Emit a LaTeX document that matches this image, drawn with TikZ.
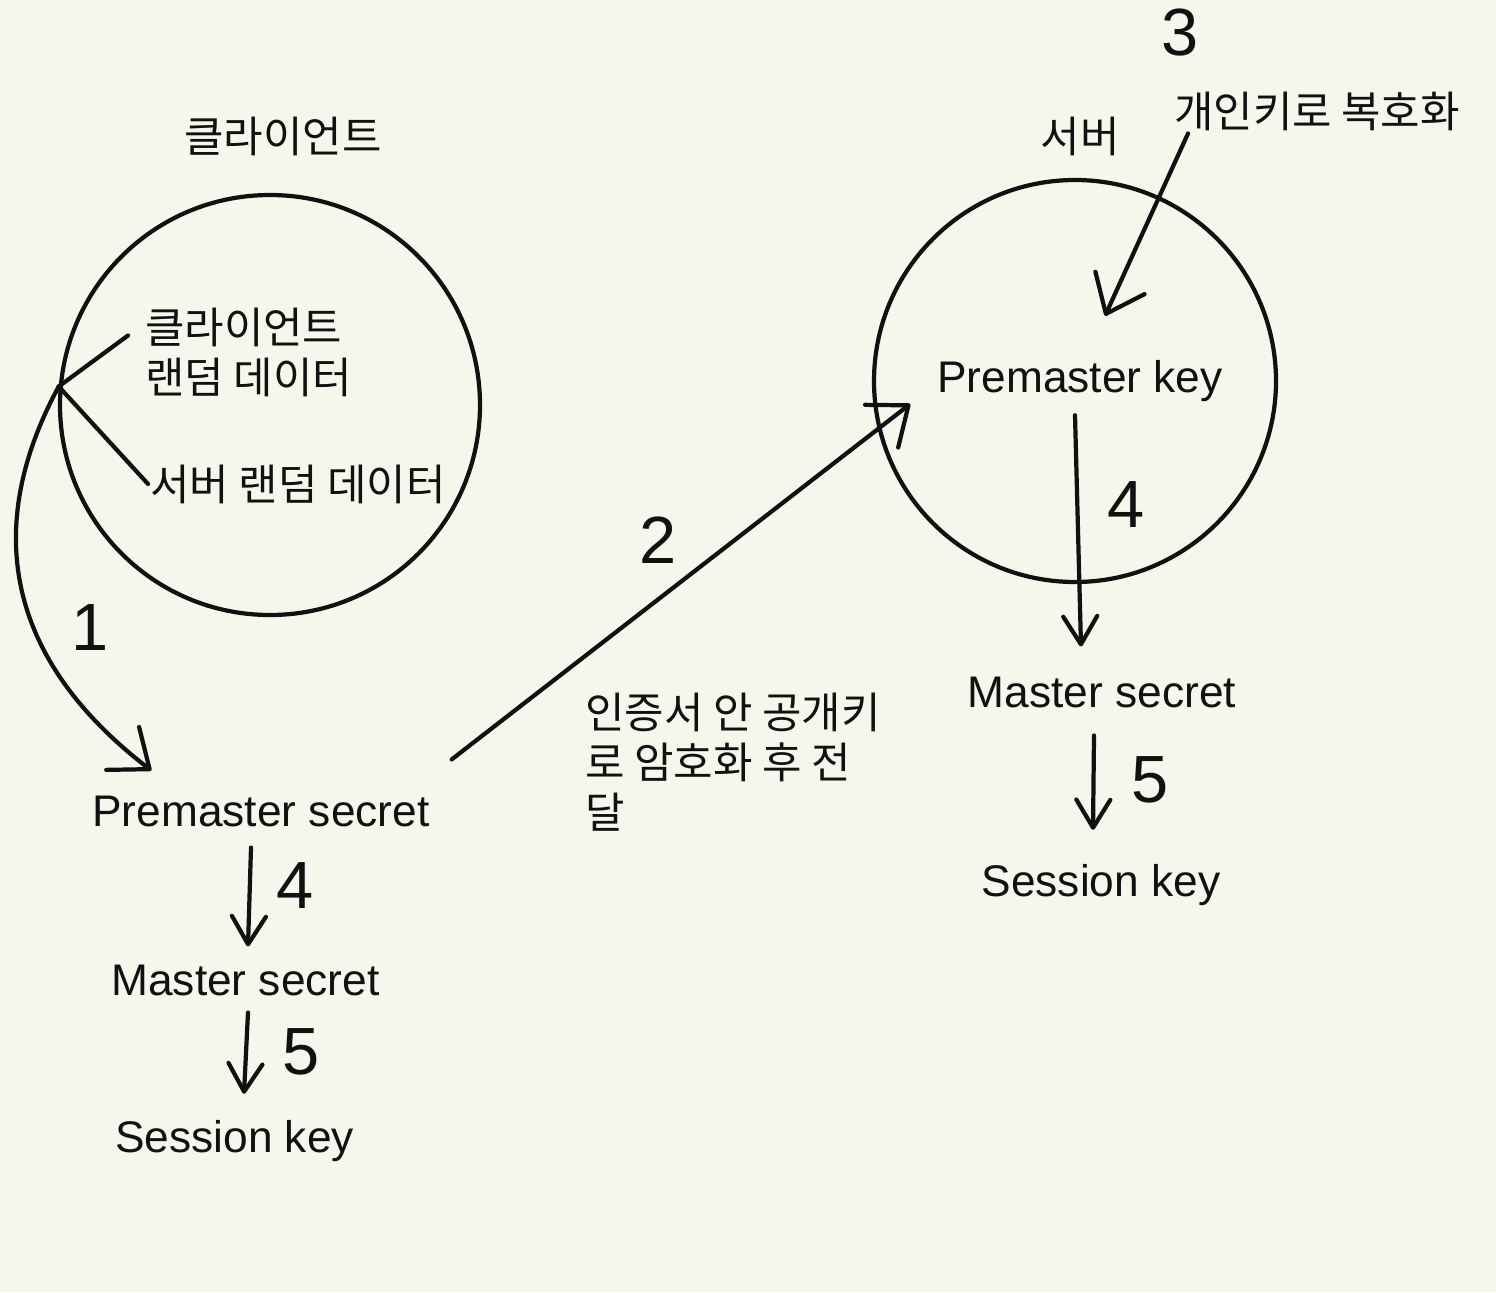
\documentclass[tikz,border=0pt]{standalone}
\usepackage{fontspec}
\setmainfont{Liberation Sans}
\newfontfamily\kr{Noto Sans CJK KR}
\usetikzlibrary{arrows.meta,positioning}
\definecolor{paper}{RGB}{247,246,236}
\definecolor{ink}{RGB}{17,17,17}

\begin{document}
\begin{tikzpicture}[line width=1.2pt,line cap=round,ink,
  en/.style={font=\fontsize{12.6}{15}\selectfont,inner sep=0pt,anchor=base},
  ko/.style={font=\kr\fontsize{12.2}{14.2}\selectfont,inner sep=0pt},
  num/.style={font=\fontsize{19}{22}\selectfont,inner sep=0pt},
  bigarr/.style={-{Straight Barb[length=3.4mm,width=5.4mm,round]}},
  smallarr/.style={-{Straight Barb[length=2.8mm,width=3.4mm,round]}}]
  \useasboundingbox (0,0) rectangle (14.96,12.92);
  \fill[paper] (0,0) rectangle (14.96,12.92);

  \node[ko,anchor=base] (cltitle) at (2.83,11.40) {클라이언트};
  \node[ko,anchor=base] (svtitle) at (10.80,11.40) {서버};
  \node[draw,circle,minimum size=4.2cm,inner sep=0pt] (client) at (2.70,8.87) {};
  \node[draw,circle,minimum size=4.02cm,inner sep=0pt] (server) at (10.75,9.11) {};

  \node[ko,anchor=north west,align=left] (crand) at (1.43,9.86) {클라이언트\\랜덤 데이터};
  \node[ko,anchor=base west] (srand) at (1.48,7.92) {서버 랜덤 데이터};
  \coordinate (jct) at (client.175);
  \draw (jct) -- ([shift={(-0.15,0.17)}]crand.west);
  \draw (jct) -- (srand.west);

  \node[en] (pms) at (2.61,4.66) {Premaster secret};
  \node[en] (msL) at (2.455,2.97) {Master secret};
  \node[en] (skL) at (2.345,1.40) {Session key};
  \node[en] (pmk) at (10.80,9.00) {Premaster key};
  \node[en] (msR) at (11.02,5.85) {Master secret};
  \node[en] (skR) at (11.01,3.96) {Session key};
  \node[ko,anchor=base] (dec) at (13.17,11.65) {개인키로 복호화};
  \node[ko,anchor=north west,align=left] (enc) at (5.83,6.01) {인증서 안 공개키\\로 암호화 후 전\\달};

  \draw[bigarr] (jct) .. controls (-0.2,7.6) and (0.1,6.3) .. ([shift={(0.61,0.23)}]pms.north west);
  \draw[bigarr] ([shift={(0.2,0.34)}]pms.north east) -- ([shift={(-0.25,-0.235)}]pmk.west);
  \draw[bigarr] ([shift={(0.16,-0.01)}]dec.south west) -- ([shift={(0.25,0.42)}]pmk.north);
  \draw[smallarr] ([shift={(-0.05,-0.12)}]pmk.south) -- ([shift={(-0.21,0.28)}]msR.north);
  \draw[smallarr] ([shift={(-0.08,-0.26)}]msR.south) -- ([shift={(-0.08,0.32)}]skR.north);
  \draw[smallarr] ([shift={(-0.10,-0.19)}]pms.south) -- ([shift={(0.025,0.16)}]msL.north);
  \draw[smallarr] ([shift={(0.025,-0.15)}]msL.south) -- ([shift={(0.095,0.24)}]skL.north);

  \node[num] (n1) at (0.90,6.64) {1};
  \node[num] (n2) at (6.58,7.52) {2};
  \node[num] (n3) at (11.80,12.59) {3};
  \node[num] (n4L) at (2.95,4.06) {4};
  \node[num] (n5L) at (3.01,2.40) {5};
  \node[num] (n4R) at (11.26,7.87) {4};
  \node[num] (n5R) at (11.50,5.12) {5};
\end{tikzpicture}
\end{document}
